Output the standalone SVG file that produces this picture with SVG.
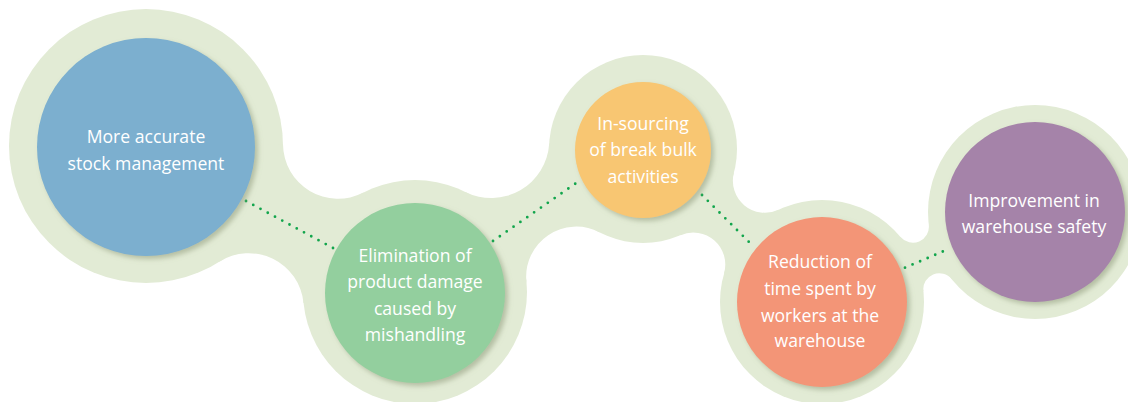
<svg xmlns="http://www.w3.org/2000/svg" width="1128" height="402" viewBox="0 0 1128 402">
<defs>
<filter id="sh" x="-20%" y="-20%" width="140%" height="140%">
<feDropShadow dx="3" dy="3" stdDeviation="2.5" flood-color="#8f9a7a" flood-opacity="0.55"/>
</filter>
<style>
.halo{fill:#e2ebd5}
.dots{fill:none;stroke:#12a54c;stroke-width:2.8;stroke-linecap:round}
.lbl{font-family:"Open Sans","Liberation Sans",sans-serif;font-size:17.6px;fill:#ffffff;text-anchor:middle}
.n{filter:url(#sh)}
</style>
</defs>
<rect width="1128" height="402" fill="#ffffff"/>
<g id="halo" class="halo">
<circle cx="146" cy="146" r="137"/>
<circle cx="415" cy="292" r="112"/>
<circle cx="643" cy="149" r="94"/>
<circle cx="822" cy="302" r="102"/>
<circle cx="1035" cy="212" r="107"/>
<path d="M146 146 L283 144.4 A55 55 0 0 0 363.4 192.6 L415 292 L303.5 302.9 A55 55 0 0 0 219.3 261.7 Z"/>
<path d="M415 292 L465.3 191.9 A58 58 0 0 0 549.2 143.5 L643 149 L599.3 232.3 A50 50 0 0 0 526.4 281.4 Z"/>
<path d="M643 149 L733.9 172.7 A32 32 0 0 0 778.5 209.7 L822 302 L724 273.5 A32 32 0 0 0 680.5 235.2 Z"/>
<path d="M822 302 L900.6 236.9 A16 16 0 0 0 928.8 224.8 L1035 212 L951.8 279.2 A16 16 0 0 0 923.4 291 Z"/>
</g>
<g id="connectors" class="dots">
<path d="M246 201 L333 248" stroke-dasharray="0 8.24"/>
<path d="M493 241 L582 179" stroke-dasharray="0 8.35"/>
<path d="M702 195 L754.5 247.5" stroke-dasharray="0 8.25"/>
<path d="M905 267.7 L950.3 248.3" stroke-dasharray="0 8.22"/>
</g>
<g id="node-1">
<circle class="n" cx="146" cy="147" r="109" fill="#7bafcf"/>
<text class="lbl" x="146" y="143">More accurate</text>
<text class="lbl" x="146" y="170">stock management</text>
</g>
<g id="node-2">
<circle class="n" cx="415" cy="293" r="90" fill="#93cf9e"/>
<text class="lbl" x="415" y="262">Elimination of</text>
<text class="lbl" x="415" y="288">product damage</text>
<text class="lbl" x="415" y="315">caused by</text>
<text class="lbl" x="415" y="341">mishandling</text>
</g>
<g id="node-3">
<circle class="n" cx="643" cy="150" r="68" fill="#f8c672"/>
<text class="lbl" x="643" y="130">In-sourcing</text>
<text class="lbl" x="643" y="156">of break bulk</text>
<text class="lbl" x="643" y="183">activities</text>
</g>
<g id="node-4">
<circle class="n" cx="822" cy="302" r="85" fill="#f39577"/>
<text class="lbl" x="820" y="268">Reduction of</text>
<text class="lbl" x="820" y="295">time spent by</text>
<text class="lbl" x="820" y="322">workers at the</text>
<text class="lbl" x="820" y="347">warehouse</text>
</g>
<g id="node-5">
<circle class="n" cx="1035" cy="212" r="90" fill="#a583a9"/>
<text class="lbl" x="1034" y="207">Improvement in</text>
<text class="lbl" x="1034" y="233">warehouse safety</text>
</g>
</svg>
